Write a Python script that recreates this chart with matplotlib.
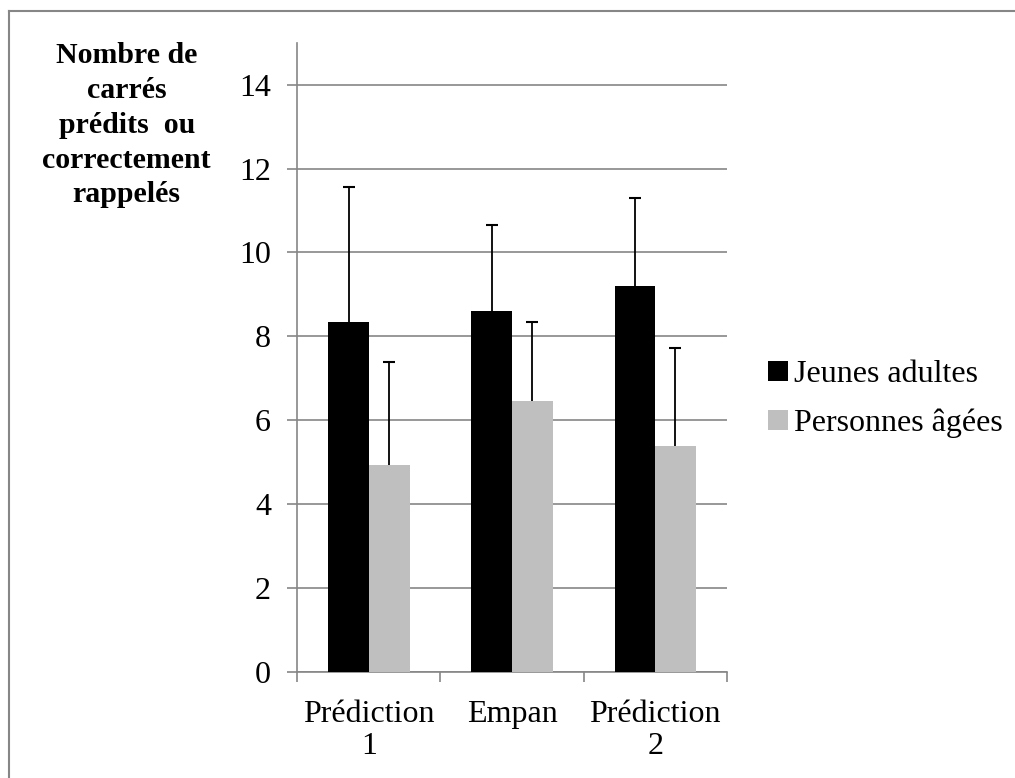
import numpy as np
import matplotlib
matplotlib.use('Agg')
import matplotlib.pyplot as plt
from matplotlib.lines import Line2D

# Data
categories = ['Prédiction\n1', 'Empan', 'Prédiction\n2']
jeunes = [8.35, 8.61, 9.20]
jeunes_err = [3.20, 2.05, 2.10]
agees = [4.93, 6.46, 5.39]
agees_err = [2.47, 1.89, 2.33]
series_labels = ['Jeunes adultes', 'Personnes âgées']
y_ticks = [0, 2, 4, 6, 8, 10, 12, 14]

plt.rcParams['font.family'] = ['Liberation Serif', 'DejaVu Serif']

fig = plt.figure(figsize=(10.15, 7.78), dpi=100)
ax = fig.add_axes([0.2929, 0.1362, 0.4231, 0.8089])

x = np.arange(len(categories))
w = 0.284
err_kw = dict(ecolor='black', elinewidth=1.3, capsize=4.5, capthick=1.5)
b1 = ax.bar(x - w / 2, jeunes, w, color='black', label=series_labels[0],
            yerr=[np.zeros(len(jeunes)), jeunes_err], error_kw=err_kw, zorder=3)
b2 = ax.bar(x + w / 2, agees, w, color='#bfbfbf', label=series_labels[1],
            yerr=[np.zeros(len(agees)), agees_err], error_kw=err_kw, zorder=3)
# only the upper half of each error bar is shown: hide the lower caps
for b in (b1, b2):
    b.errorbar.lines[1][0].set_visible(False)

ax.set_xlim(-0.5, len(categories) - 0.5)
ax.set_ylim(0, 15)
ax.set_yticks(y_ticks)
ax.set_yticklabels([str(t) for t in y_ticks], fontsize=23)
ax.set_xticks(x)
ax.set_xticklabels(categories, fontsize=23, linespacing=1.15)
ax.set_xticks(np.arange(len(categories) + 1) - 0.5, minor=True)
ax.tick_params(axis='x', which='major', length=0, pad=20)
ax.tick_params(axis='x', which='minor', length=7, color='#868686', width=1.2)
ax.tick_params(axis='y', length=7, color='#868686', width=1.2, pad=12)

ax.grid(axis='y', color='#868686', linewidth=1.2)
ax.set_axisbelow(True)
for side in ['top', 'right']:
    ax.spines[side].set_visible(False)
for side in ['left', 'bottom']:
    ax.spines[side].set_color('#868686')
    ax.spines[side].set_linewidth(1.2)

fig.text(0.1248, 0.839, 'Nombre de\ncarrés\nprédits  ou\ncorrectement\nrappelés',
         ha='center', va='center', fontsize=21.5, fontweight='bold', linespacing=1.37)

ax.legend(loc='center left', bbox_to_anchor=(0.757, 0.487), bbox_transform=fig.transFigure,
          frameon=False, fontsize=23, handlelength=0.6, handleheight=0.6,
          handletextpad=0.2, labelspacing=0.6, borderpad=0, borderaxespad=0)

# outer frame: only left and top edges are visible in the crop
bx, by = 8.5 / 1015, 1 - 11 / 778
fig.add_artist(Line2D([bx, bx], [0, by], transform=fig.transFigure, color='#868686', lw=1.5))
fig.add_artist(Line2D([bx, 1], [by, by], transform=fig.transFigure, color='#868686', lw=1.5))

plt.savefig('out.png', dpi=100)
